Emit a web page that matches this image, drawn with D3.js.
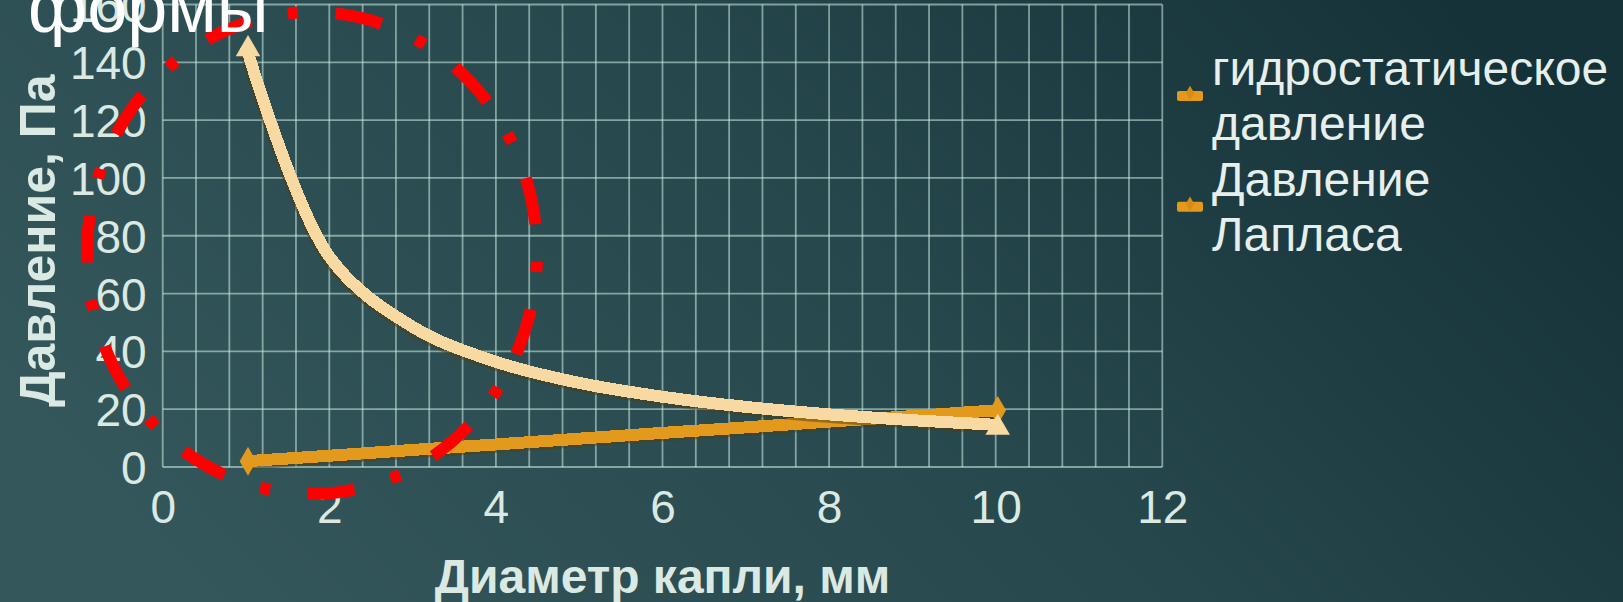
<!DOCTYPE html>
<html>
<head>
<meta charset="utf-8">
<script src="https://cdn.jsdelivr.net/npm/d3@7"></script>
<style>
  html, body { margin: 0; padding: 0; background: #22444a; }
  svg { display: block; }
</style>
</head>
<body>
<svg id="chart" width="1623" height="602"></svg>
<script>
// Drop diameter, mm
const diameters = [1, 2, 3, 4, 5, 6, 7, 8, 9, 10];
// Hydrostatic pressure, Pa
const hydrostatic = [2.0, 3.9, 5.9, 7.8, 9.8, 11.8, 13.7, 15.7, 17.6, 19.6];
// Laplace pressure, Pa
const laplace = [145.6, 72.8, 48.5, 36.4, 29.1, 24.3, 20.8, 18.2, 16.2, 14.6];

const xTicks = [0, 2, 4, 6, 8, 10, 12];
const yTicks = [0, 20, 40, 60, 80, 100, 120, 140, 160];
const legendLabels = [["гидростатическое", "давление"], ["Давление", "Лапласа"]];
const xTitle = "Диаметр капли, мм";
const yTitle = "Давление, Па";
const slideText = "формы";

const W = 1623, H = 602;
const svg = d3.select("#chart");
const defs = svg.append("defs");

// slide background
const bg = defs.append("linearGradient").attr("id", "bg")
  .attr("x1", "0").attr("y1", "0.65").attr("x2", "1").attr("y2", "0.3");
bg.append("stop").attr("offset", "0").attr("stop-color", "#34575b");
bg.append("stop").attr("offset", "0.55").attr("stop-color", "#26474c");
bg.append("stop").attr("offset", "1").attr("stop-color", "#153238");
svg.append("rect").attr("width", W).attr("height", H).attr("fill", "url(#bg)");

const x = d3.scaleLinear().domain([0, 12]).range([162.7, 1162.3]);
const y = d3.scaleLinear().domain([0, 160]).range([467, 4.5]);

const gridColor = "rgba(205,238,228,0.55)";
const textColor = "#dbe9e3";
const font = "'Liberation Sans', Arial, sans-serif";

// grid: minor verticals every 0.4 mm, horizontals every 20 Pa
const grid = svg.append("g");
grid.selectAll("line.v").data(d3.range(0, 30.5, 1).map(i => i * 0.4)).join("line")
  .attr("x1", d => x(d)).attr("x2", d => x(d))
  .attr("y1", y(160)).attr("y2", y(0))
  .attr("stroke", gridColor).attr("stroke-width", 1.8);
grid.selectAll("line.h").data(yTicks).join("line")
  .attr("x1", x(0)).attr("x2", x(12))
  .attr("y1", d => y(d)).attr("y2", d => y(d))
  .attr("stroke", gridColor).attr("stroke-width", 1.8);

// axis tick labels
const yAxis = d3.axisLeft(y).tickValues(yTicks).tickSize(0).tickPadding(16);
const yg = svg.append("g").attr("transform", `translate(${x(0)},0)`).call(yAxis);
yg.select(".domain").remove();
yg.selectAll("text").attr("fill", textColor).attr("font-family", font)
  .attr("font-size", 46).attr("dy", "0.36em");

const xAxis = d3.axisBottom(x).tickValues(xTicks).tickSize(0).tickPadding(23);
const xg = svg.append("g").attr("transform", `translate(0,${y(0)})`).call(xAxis);
xg.select(".domain").remove();
xg.selectAll("text").attr("fill", textColor).attr("font-family", font)
  .attr("font-size", 46).attr("dy", "0.71em");

// axis titles
svg.append("text").attr("x", (x(0) + x(12)) / 2).attr("y", 593)
  .attr("text-anchor", "middle").attr("fill", textColor)
  .attr("font-family", font).attr("font-weight", "bold").attr("font-size", 48)
  .text(xTitle);
svg.append("text").attr("transform", `translate(55,${(y(0) + y(160)) / 2 + 5}) rotate(-90)`)
  .attr("text-anchor", "middle").attr("fill", textColor)
  .attr("font-family", font).attr("font-weight", "bold").attr("font-size", 50)
  .text(yTitle);

// series
const series = [
  { name: legendLabels[0], values: hydrostatic, color: "#e39a1c", symbol: d3.symbolDiamond, size: 240, dy: 0 },
  { name: legendLabels[1], values: laplace, color: "#f9d9a2", symbol: d3.symbolTriangle, size: 260, dy: 3 }
];

const line = d3.line()
  .x(d => x(d[0])).y(d => y(d[1]))
  .curve(d3.curveCatmullRom.alpha(0.5));

const plot = svg.append("g");
series.forEach(s => {
  const pts = diameters.map((d, i) => [d, s.values[i]]);
  plot.append("path").datum(pts).attr("d", line)
    .attr("fill", "none").attr("stroke", "rgba(80,62,20,0.5)")
    .attr("stroke-width", 12).attr("transform", "translate(-1.5,2.5)");
  plot.append("path").datum(pts).attr("d", line)
    .attr("fill", "none").attr("stroke", s.color)
    .attr("stroke-width", 12).attr("stroke-linejoin", "round")
    .attr("shape-rendering", "crispEdges");
  // end-point markers (inner ones are buried in the thick line)
  const ends = [pts[0], pts[pts.length - 1]];
  plot.selectAll(null).data(ends).join("path")
    .attr("d", d3.symbol().type(s.symbol).size(s.size))
    .attr("transform", d => `translate(${x(d[0]) + 2},${y(d[1]) + s.dy})`)
    .attr("fill", s.color);
});

// legend
const legend = svg.append("g");
const legendTop = [85, 195.7];
series.forEach((s, i) => {
  const g = legend.append("g");
  const cy = legendTop[i] + 11;
  g.append("rect").attr("x", 1177).attr("y", cy - 5).attr("width", 26).attr("height", 10)
    .attr("rx", 2).attr("fill", "#e39a1c");
  g.append("path").attr("d", d3.symbol().type(d3.symbolDiamond).size(60))
    .attr("transform", `translate(1190,${cy - 3})`).attr("fill", "#d98c12");
  s.name.forEach((t, j) => {
    g.append("text").attr("x", 1212).attr("y", legendTop[i] + j * 55)
      .attr("fill", "#e6efeb").attr("font-family", font).attr("font-size", 48)
      .text(t);
  });
});

// red dash-dot ellipse around the small-diameter region
svg.append("ellipse")
  .attr("cx", 312).attr("cy", 253).attr("rx", 225).attr("ry", 241)
  .attr("fill", "none").attr("stroke", "#ff0000").attr("stroke-width", 12)
  .attr("pathLength", 1463)
  .attr("stroke-dasharray", "47 38 10 38")
  .attr("stroke-dashoffset", 76);

// slide caption fragment
svg.append("text").attr("x", 28).attr("y", 32)
  .attr("fill", "#ffffff").attr("font-family", font).attr("font-size", 72)
  .text(slideText);
</script>
</body>
</html>
